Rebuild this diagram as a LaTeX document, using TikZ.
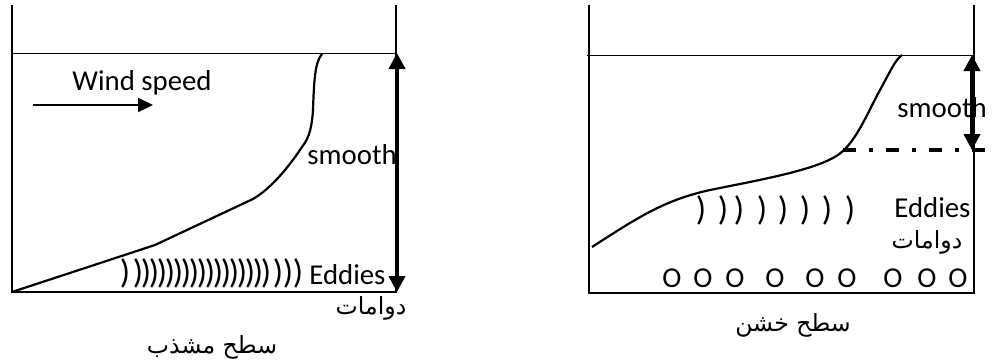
\documentclass[tikz,border=0pt]{standalone}
\usepackage{fontspec}
\setmainfont{Carlito}
\newfontfamily\arabicfont[Script=Arabic]{DejaVu Sans}
\TeXXeTstate=1
\usetikzlibrary{arrows.meta}

\begin{document}
\begin{tikzpicture}[
  x=0.5pt, y=-0.5pt,
  wall/.style={line width=1.2pt},
  level/.style={line width=0.5pt},
  profile/.style={line width=1.1pt},
  span/.style={line width=2pt, {Triangle[length=8pt,width=8pt]}-{Triangle[length=8pt,width=8pt]}},
  windarrow/.style={line width=1.1pt, -{Triangle[length=7.5pt,width=7pt]}},
  dashdot/.style={line width=2pt, dash pattern=on 6.5pt off 6.5pt on 2pt off 6.5pt},
  lbl/.style={inner sep=0pt, font=\fontsize{14.4}{16}\selectfont},
  arab/.style={inner sep=0pt, font=\fontsize{11.8}{14}\selectfont\arabicfont},
  eddy/.style={inner sep=0pt, font=\fontsize{17}{19}\selectfont}
  ]

\useasboundingbox (0,0) rectangle (1003,364);

% smooth surface
\draw[wall] (12,5) -- (12,292) -- (396,292) -- (396,5);
\draw[level] (12,53) -- (396,53);
\coordinate (ltop) at (397,53);
\coordinate (lbot) at (397,292);
\draw[span] (ltop) -- (lbot);

\draw[profile] (12,292) -- (155,245) -- (253,199)
  .. controls (272,188) and (290,165) .. (302,147)
  .. controls (310,137) and (312,125) .. (313,110)
  .. controls (314,80) and (315,62) .. (322,54);

\coordinate (wstart) at (33,105);
\coordinate (wend) at (153,105);
\draw[windarrow] (wstart) -- (wend);
\node[lbl] (wind) at (142,83) {Wind speed};
\node[lbl, anchor=west] (lsmooth) at (307,155) {smooth};
\node[lbl, anchor=west] (leddies) at (309,275) {Eddies};
\node[arab] (ldawamat) at (371,308) {\beginR دوامات\endR};
\node[arab] (lsurf) at (212,347) {\beginR سطح مشذب\endR};

\foreach \x [count=\i] in {125,138,146,154,162,170,178,186,194,202,210,218,226,234,242,250,258,266,278,288,298}
  \node[eddy] (le\i) at (\x,273) {)};

% rough surface
\draw[wall] (589,5) -- (589,293) -- (974,293) -- (974,5);
\draw[level] (587,55) -- (974,55);
\coordinate (rtop) at (972,55);
\coordinate (rbot) at (972,150);
\coordinate (dstart) at (843,150);
\coordinate (dend) at (992,150);
\draw[dashdot] (dstart) -- (dend);
\draw[span] (rtop) -- (rbot);

\draw[profile] (592,247) .. controls (640,216) and (665,200) .. (710,190)
  .. controls (770,178) and (825,168) .. (843,151)
  .. controls (858,137) and (868,112) .. (880,90)
  .. controls (890,72) and (895,60) .. (902,55);

\node[lbl, anchor=west] (rsmooth) at (897,108) {smooth};
\node[lbl, anchor=west] (reddies) at (894,208) {Eddies};
\node[arab] (rdawamat) at (927,242) {\beginR دوامات\endR};
\node[arab] (rsurf) at (793,325) {\beginR سطح خشن\endR};

\foreach \x [count=\i] in {701,723,739,762,783,805,827,850}
  \node[eddy] (re\i) at (\x,210) {)};
\foreach \x [count=\i] in {672,703,735,775,815,847,893,927,958}
  \node[lbl] (ro\i) at (\x,278) {O};

\end{tikzpicture}
\end{document}
